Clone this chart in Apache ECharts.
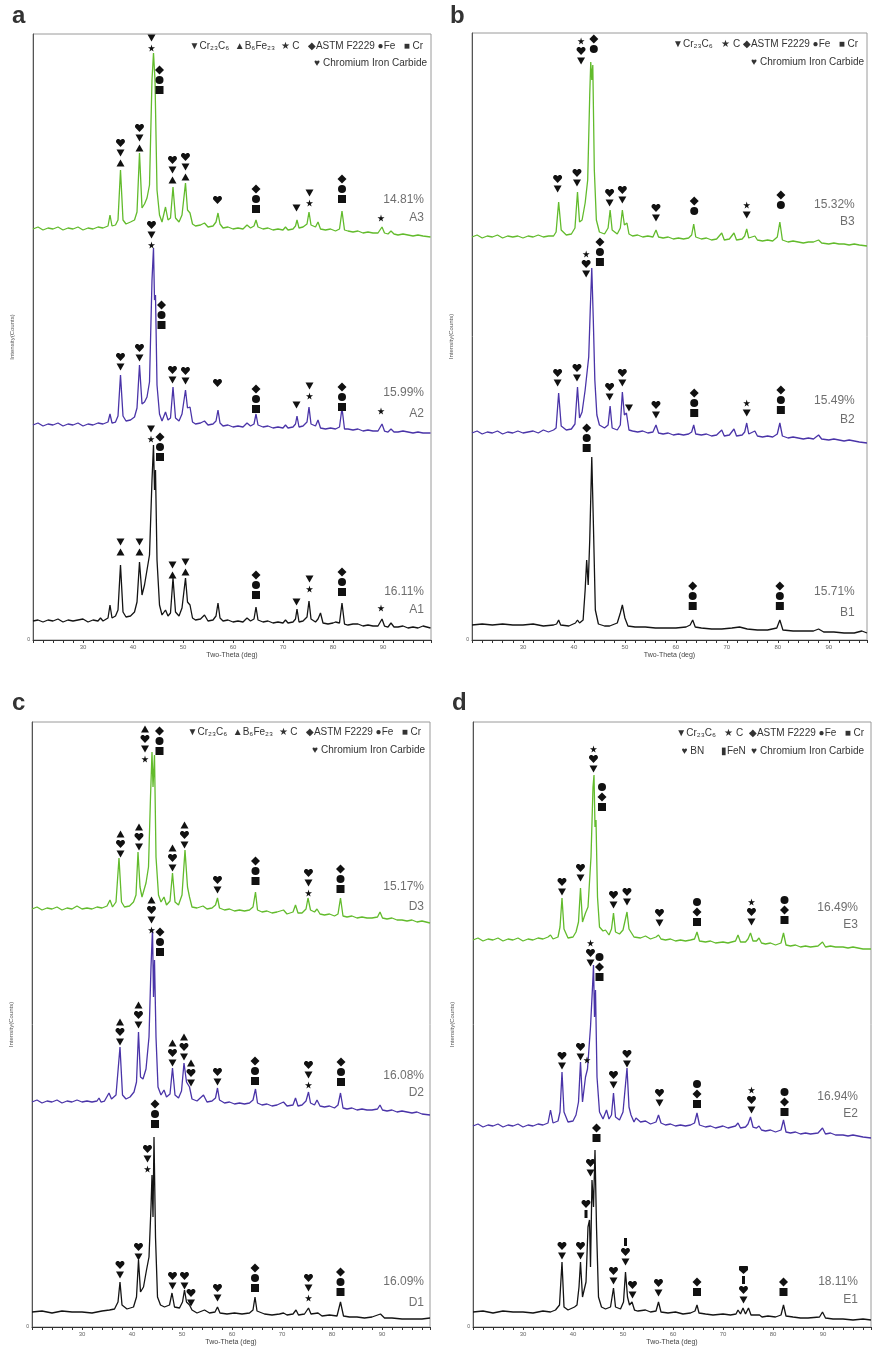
<!DOCTYPE html>
<html>
<head>
<meta charset="utf-8">
<script src="https://cdn.jsdelivr.net/npm/echarts@6/dist/echarts.min.js"></script>
<style>
  html, body { margin: 0; padding: 0; background: #fff; }
  #main { width: 874px; height: 1351px; }
</style>
</head>
<body>
<div id="main"></div>
<script>
// XRD patterns, [2theta, intensity] ; intensity in the panel's own arbitrary units (stacked traces)
var A3 = [[20,411],[21,413],[22,410],[23,412],[24,411],[25,413],[26,410],[27,412],[28,411],[29,413],[30,410],[31,412],[32,411],[33,413],[34,412],[35,414],[35.4,425],[35.8,414],[36.5,415],[37,420],[37.5,470],[38,420],[38.6,416],[39.5,418],[40.3,420],[40.8,428],[41.3,487],[41.8,432],[42.3,436],[42.8,442],[43.3,455],[43.8,560],[44.1,587],[44.4,560],[44.8,450],[45.3,425],[45.8,418],[46.5,433],[47,420],[47.5,422],[48,453],[48.5,422],[49.2,418],[49.8,425],[50.5,457],[50.9,430],[51.4,427],[51.9,416],[52.5,414],[53.5,415],[54.3,417],[55,413],[56,414],[56.6,418],[57,427],[57.4,416],[58,412],[59,413],[60,411],[61,412],[62,411],[62.8,415],[63.5,412],[64.2,414],[64.6,420],[65,413],[66,411],[67,412],[68,410],[69,411],[70,410],[70.5,413],[71,410],[72,411],[72.5,414],[72.8,420],[73.2,412],[74,413],[74.8,416],[75.2,428],[75.6,415],[76.5,413],[77,418],[77.5,411],[78.5,410],[79.5,411],[80.5,409],[81.3,411],[81.8,429],[82.3,410],[83,409],[84,408],[85,409],[86,407],[87,408],[88,407],[89,407],[89.8,413],[90.3,407],[91,406],[91.6,409],[92.2,406],[93,405],[94,406],[95,405],[96,404],[97,405],[98,404],[99.5,403]];
var A2 = [[20,215],[21,217],[22,214],[23,216],[24,215],[25,217],[26,214],[27,216],[28,215],[29,217],[30,214],[31,216],[32,215],[33,217],[34,216],[35,218],[35.4,226],[35.8,217],[36.5,218],[37,224],[37.5,265],[38,224],[38.6,219],[39.5,220],[40.3,223],[40.8,232],[41.3,275],[41.8,236],[42.3,238],[42.8,243],[43.3,258],[43.8,360],[44.1,392],[44.3,340],[44.5,345],[44.8,255],[45.3,226],[45.8,219],[46.5,228],[47,220],[47.5,222],[48,253],[48.5,222],[49.2,219],[49.8,226],[50.5,250],[50.9,232],[51.4,233],[51.9,218],[52.5,216],[53.5,217],[54.3,219],[55,215],[56,216],[56.6,219],[57,230],[57.4,217],[58,214],[59,215],[60,213],[61,214],[62,213],[62.8,217],[63.5,214],[64.2,216],[64.6,226],[65,215],[66,213],[67,214],[68,212],[69,213],[70,212],[70.5,215],[71,212],[72,213],[72.5,216],[72.8,224],[73.2,213],[74,214],[74.8,218],[75.2,233],[75.6,216],[76.5,214],[77,220],[77.5,212],[78.5,211],[79.5,212],[80.5,211],[81.3,213],[81.8,232],[82.3,211],[83,211],[84,210],[85,211],[86,209],[87,210],[88,209],[89,209],[89.8,216],[90.3,209],[91,208],[91.6,211],[92.2,208],[93,208],[94,209],[95,208],[96,207],[97,208],[98,207],[99.5,207]];
var A1 = [[20,19],[21,20],[22,18],[23,20],[24,19],[25,21],[26,18],[27,20],[28,19],[29,20],[30,21],[31,18],[32,20],[33,19],[33.5,22],[34,19],[35,22],[35.4,35],[35.8,22],[36.5,24],[37,30],[37.5,75],[38,28],[38.6,23],[39.5,24],[40.3,28],[40.8,38],[41.3,78],[41.8,45],[42.3,55],[42.8,70],[43.3,85],[43.8,160],[44.1,195],[44.3,150],[44.5,170],[44.8,80],[45.3,35],[45.8,25],[46.5,30],[47,24],[47.5,27],[48,62],[48.5,28],[49.2,24],[49.8,32],[50.5,62],[50.9,38],[51.4,35],[51.9,22],[52.5,20],[53.5,21],[54.3,25],[55,19],[56,20],[56.6,24],[57,37],[57.4,22],[58,19],[59,20],[60,18],[61,19],[62,18],[62.8,22],[63.5,19],[64.2,21],[64.6,33],[65,20],[66,18],[67,19],[68,17],[69,18],[70,17],[70.5,20],[71,17],[72,18],[72.5,21],[72.8,31],[73.2,18],[74,19],[74.8,23],[75.2,39],[75.6,21],[76.5,18],[77,21],[77.5,27],[78,17],[79,16],[80,17],[80.5,18],[81.3,17],[81.8,37],[82.3,16],[83,15],[84,16],[85,16],[86,14],[87,15],[88,14],[89,14],[89.8,21],[90.3,14],[91,13],[91.6,17],[92.2,13],[93,13],[94,14],[95,12],[96,13],[97,12],[98,14],[99.5,12]];

var B3 = [[20,403],[21,405],[22,402],[23,404],[24,403],[25,405],[26,402],[27,404],[28,403],[29,404],[30,402],[31,404],[32,403],[33,405],[34,403],[35,404],[36,404],[36.5,408],[37,438],[37.5,410],[38.5,405],[39.5,406],[40.2,412],[40.7,448],[41.1,418],[41.6,420],[42.2,437],[42.7,460],[43.1,545],[43.3,578],[43.5,560],[43.7,575],[44,470],[44.4,420],[45,408],[46,406],[46.7,412],[47.1,430],[47.5,410],[48.5,406],[49.1,412],[49.5,430],[49.9,415],[50.4,417],[50.8,406],[51.5,404],[52.5,405],[53.5,403],[54.5,404],[55.5,403],[56.1,410],[56.6,403],[57.5,402],[58.5,403],[59.5,401],[60.5,402],[61.5,401],[62.5,402],[63.1,405],[63.5,416],[63.9,403],[65,401],[66,402],[67,400],[68,401],[69,407],[69.5,400],[70.5,401],[71.4,407],[71.9,400],[73,401],[73.5,404],[73.9,411],[74.3,402],[75.5,404],[76,400],[77,399],[78,400],[79,399],[79.9,403],[80.4,418],[80.9,400],[82,398],[83,399],[84,398],[85,397],[86,398],[87,398],[88,400],[88.6,397],[90,396],[91,397],[92,396],[93,396],[94,395],[95,396],[96,395],[97.5,394]];
var B2 = [[20,207],[21,209],[22,206],[23,208],[24,207],[25,209],[26,206],[27,208],[28,207],[29,209],[30,207],[31,208],[32,209],[33,207],[34,210],[35,208],[36,210],[36.5,212],[37,247],[37.5,214],[38.5,210],[39.5,211],[40.2,216],[40.7,253],[41.1,222],[41.6,228],[42.2,250],[42.9,283],[43.2,330],[43.5,372],[43.8,320],[44.1,260],[44.5,225],[45,215],[46,212],[46.7,215],[47.1,234],[47.5,212],[48.5,210],[49.1,215],[49.5,248],[49.9,225],[50.3,227],[50.8,210],[51.5,209],[52.5,208],[53.5,209],[54.5,207],[55.5,208],[56.1,215],[56.6,207],[57.5,206],[58.5,207],[59.5,205],[60.5,206],[61.5,205],[62.5,206],[63.1,208],[63.5,215],[63.9,206],[65,205],[66,206],[67,204],[68,205],[69,210],[69.5,204],[70.5,205],[71.4,211],[71.9,204],[73,205],[73.5,208],[73.9,217],[74.3,206],[75.5,209],[76,204],[77,203],[78,204],[79,203],[79.9,206],[80.4,217],[80.9,204],[82,202],[83,203],[84,202],[85,201],[86,202],[87,201],[88,205],[88.6,201],[90,200],[91,201],[92,200],[93,199],[94,200],[95,199],[96,198],[97.5,197]];
var B1 = [[20,15],[22,16],[24,15],[26,16],[28,15],[30,15],[32,16],[34,14],[36,15],[36.6,16],[37,20],[37.4,15],[39,14],[40.3,17],[40.7,20],[41.1,17],[41.8,20],[42.2,50],[42.5,80],[42.8,55],[43.1,100],[43.5,183],[43.8,120],[44.2,30],[44.8,16],[46,14],[47,14],[48.5,17],[49.1,27],[49.5,35],[50,22],[50.6,14],[52,13],[54,13],[56,12],[58,12],[60,12],[62,13],[62.8,15],[63.3,20],[63.8,13],[65,12],[67,11],[69,11],[71,12],[72.5,13],[74,11],[76,10],[78,10],[79.8,12],[80.4,20],[81,10],[83,9],[85,9],[87,9],[88,11],[89,8],[91,8],[93,7],[95,7],[96.5,9],[97.5,7]];

var D3 = [[20,418],[21,420],[22,417],[23,419],[24,418],[25,420],[26,417],[27,419],[28,418],[29,421],[30,418],[31,419],[32,418],[33,420],[34,419],[35,421],[35.6,427],[36.1,420],[36.8,425],[37.4,469],[37.9,425],[38.5,420],[39.5,421],[40.3,425],[40.8,432],[41.2,475],[41.6,440],[42,430],[42.8,444],[43.3,460],[43.7,530],[44,575],[44.2,540],[44.5,572],[44.8,470],[45.3,432],[45.8,425],[46.4,430],[46.9,422],[47.6,426],[48.1,454],[48.6,425],[49.3,422],[50,432],[50.6,477],[51.1,440],[51.5,430],[52,420],[53,419],[54.2,421],[55,418],[56,419],[56.7,422],[57.1,429],[57.5,419],[58.5,417],[59.5,418],[60.5,416],[61.5,417],[62.5,416],[63.5,417],[64.2,420],[64.7,435],[65.1,417],[66,415],[67,416],[68,414],[69,415],[70.3,417],[71,413],[72.2,415],[72.7,422],[73.2,414],[74,414],[74.8,418],[75.2,429],[75.7,417],[76.5,415],[77,418],[77.6,413],[78.5,412],[79.5,413],[80.5,411],[81.2,413],[81.7,429],[82.2,411],[83,410],[84,411],[85,409],[86,410],[87,409],[88,409],[89.1,410],[89.6,415],[90.1,409],[91,408],[92,409],[93,407],[94,407],[95,406],[96,407],[97,405],[98,406],[99.6,404]];
var D2 = [[20,225],[21,227],[22,224],[23,226],[24,225],[25,227],[26,224],[27,226],[28,225],[29,227],[30,225],[31,226],[32,225],[33,226],[33.4,229],[33.8,225],[34.5,226],[35.4,234],[35.9,228],[36.8,232],[37.6,280],[38.1,232],[38.8,228],[39.6,230],[40.4,235],[40.9,245],[41.3,295],[41.7,250],[42.2,248],[42.8,258],[43.4,290],[43.8,360],[44.1,398],[44.3,330],[44.5,367],[44.8,290],[45.2,240],[45.8,232],[46.4,237],[46.9,230],[47.6,233],[48.1,259],[48.6,232],[49.3,229],[49.9,236],[50.4,264],[50.9,245],[51.5,240],[52,228],[53,226],[54.3,232],[55,225],[56,226],[56.7,229],[57.1,239],[57.5,227],[58.5,224],[59.5,225],[60.5,223],[61.5,224],[62.5,223],[63.5,224],[64.2,227],[64.7,238],[65.1,224],[66,222],[67,223],[68,221],[69,222],[70.3,225],[71,221],[72.2,222],[72.7,229],[73.2,221],[74,222],[74.8,226],[75.3,235],[75.7,224],[76.5,222],[77,227],[77.6,221],[78.5,220],[79.5,221],[80.5,219],[81.2,222],[81.7,234],[82.2,219],[83,218],[84,219],[85,217],[86,218],[87,217],[88,217],[89.1,218],[89.6,222],[90.1,217],[91,216],[92,217],[93,215],[94,216],[95,215],[96,214],[97,215],[98,213],[99.6,212]];
var D1 = [[20,15],[22,16],[24,14],[26,16],[28,15],[30,15],[32,14],[34,16],[35.5,17],[36.5,18],[37.2,25],[37.6,45],[38,22],[39,18],[40.3,20],[40.9,30],[41.3,67],[41.7,35],[42.3,40],[42.9,57],[43.4,70],[43.8,120],[44,152],[44.2,110],[44.4,190],[44.7,90],[45.1,30],[45.7,22],[46.5,20],[47.5,22],[48,34],[48.5,20],[49.5,19],[50.1,25],[50.5,37],[50.9,25],[51.5,22],[52,17],[53,14],[54.5,17],[55.5,14],[56.6,15],[57.1,20],[57.6,14],[59,13],[60.5,14],[62,13],[63.5,14],[64.2,17],[64.6,30],[65,16],[66.5,13],[68,12],[69.5,13],[70.3,14],[71,12],[72.2,13],[72.8,17],[73.3,12],[74.5,13],[75.3,19],[75.8,13],[77.2,14],[78,11],[79.5,12],[81,11],[81.7,25],[82.3,11],[83.5,10],[85,10],[86.5,9],[88,10],[89.7,13],[90.5,9],[92,9],[94,8],[96,8],[98,8],[99.6,9]];

var E3 = [[20,387],[21,389],[22,386],[23,388],[24,387],[25,389],[26,386],[27,388],[28,387],[29,389],[30,386],[31,388],[32,387],[33,389],[34,388],[35,390],[35.5,392],[36,388],[37,390],[37.4,400],[37.8,429],[38.2,398],[39,389],[40,390],[40.6,395],[41.1,405],[41.5,439],[41.9,405],[42.5,414],[43,420],[43.6,470],[44,540],[44.2,552],[44.4,500],[44.6,507],[44.9,430],[45.3,400],[46,396],[46.5,397],[47.2,392],[47.7,398],[48.1,414],[48.5,395],[49.3,393],[50,397],[50.8,415],[51.2,398],[51.6,397],[52.2,390],[53.5,389],[54.5,391],[55.5,388],[56.6,390],[57.1,392],[57.6,388],[58.5,387],[59.5,388],[60.5,386],[61.5,387],[62.5,386],[63.5,387],[64.3,388],[64.8,395],[65.3,386],[66.5,385],[67.5,386],[68.5,384],[70,385],[71,384],[72.5,386],[73,392],[73.5,385],[74.5,385],[75,388],[75.5,394],[76,386],[76.7,386],[77.2,389],[77.7,384],[78.5,383],[79.5,384],[80.5,382],[81.6,384],[82.1,394],[82.6,382],[83.5,381],[84.5,382],[85.5,380],[86.5,381],[87.5,380],[89,381],[89.9,385],[90.5,380],[91.5,381],[92.5,380],[94,380],[95,379],[96,380],[97,379],[98,378],[99.6,378]];
var E2 = [[20,201],[21,203],[22,200],[23,202],[24,201],[25,203],[26,200],[27,202],[28,201],[29,203],[30,200],[31,202],[32,201],[33,203],[34,202],[35,204],[35.5,217],[36,204],[37,206],[37.4,215],[37.8,255],[38.2,215],[39,205],[40,206],[40.6,212],[41.1,225],[41.5,265],[41.9,225],[42.5,250],[42.9,258],[43.5,300],[44,350],[44.1,362],[44.3,310],[44.5,337],[44.8,250],[45.3,215],[46,208],[46.7,217],[47.2,208],[47.7,212],[48.1,234],[48.5,210],[49.3,207],[50,215],[50.8,259],[51.2,220],[51.6,212],[52.2,205],[52.6,209],[53.5,205],[54.5,206],[55.5,203],[56.6,205],[57.1,212],[57.6,204],[58.5,202],[59.5,203],[60.5,201],[61.5,202],[62.5,201],[63.5,202],[64.3,204],[64.8,214],[65.3,202],[66.5,200],[67.5,201],[68.5,199],[70,201],[71,199],[72.5,201],[73,204],[73.5,199],[74.5,200],[75,203],[75.5,210],[76,200],[76.7,199],[77.2,201],[77.7,197],[78.5,196],[79.5,197],[80.5,195],[81.6,197],[82.1,207],[82.6,195],[83.5,194],[84.5,195],[85.5,193],[86.5,194],[87.5,193],[89,194],[89.9,199],[90.5,193],[91.5,194],[92.5,192],[94,192],[95,191],[96,192],[97,191],[98,190],[99.6,189]];
var E1 = [[20,15],[22,16],[24,14],[26,16],[28,15],[30,15],[32,14],[34,16],[35.5,15],[36.5,17],[37.3,22],[37.8,65],[38.2,20],[39,17],[40.3,20],[40.8,22],[41.2,40],[41.5,65],[41.9,30],[42.3,32],[42.6,45],[43,100],[43.3,107],[43.5,60],[43.8,147],[44.1,120],[44.4,177],[44.7,100],[45.1,30],[45.7,20],[46.5,18],[47.5,20],[48.1,39],[48.5,20],[49.5,18],[50.1,25],[50.5,55],[50.9,30],[51.3,22],[51.8,25],[52.3,17],[53,16],[54.5,17],[55.5,15],[56.6,16],[57.1,25],[57.6,15],[59,14],[60.5,15],[62,13],[63.5,14],[64.4,16],[64.8,22],[65.2,14],[66.5,13],[68,12],[70,13],[71.5,12],[72.6,13],[73,17],[73.5,13],[74,19],[74.5,13],[75.1,19],[75.6,12],[77.3,12],[77.8,10],[79,11],[80.5,10],[81.6,12],[82.1,22],[82.6,11],[84,10],[85.5,9],[87,9],[89.3,10],[89.9,15],[90.5,9],[92,8],[94,8],[96,7],[98,8],[99.6,7]];

// phase markers: [2theta, height of top symbol, symbols top->bottom]
// v Cr23C6, ^ B6Fe23, * C, d ASTM F2229, o Fe, s Cr, h chromium iron carbide, b BN, f FeN
var A3_marks = [[37.5,497,'hv^'],[41.3,512,'hv^'],[43.7,602,'v*'],[45.3,570,'dos'],[47.9,480,'hv^'],[50.5,483,'hv^'],[56.9,440,'h'],[64.6,451,'dos'],[72.7,432,'v'],[75.3,447,'v*'],[81.8,461,'dos'],[89.6,422,'*']];
var A2_marks = [[37.5,283,'hv'],[41.3,292,'hv'],[43.7,415,'hv*'],[45.7,335,'dos'],[47.9,270,'hv'],[50.5,269,'hv'],[56.9,257,'h'],[64.6,251,'dos'],[72.7,235,'v'],[75.3,254,'v*'],[81.8,253,'dos'],[89.6,229,'*']];
var A1_marks = [[37.5,98,'v^'],[41.3,98,'v^'],[43.6,211,'v*'],[45.4,203,'dos'],[47.9,75,'v^'],[50.5,78,'v^'],[64.6,65,'dos'],[72.7,38,'v'],[75.3,61,'v*'],[81.8,68,'dos'],[89.6,32,'*']];
var B3_marks = [[41.4,599,'*hv'],[43.9,601,'do'],[36.8,461,'hv'],[40.6,467,'hv'],[47.0,447,'hv'],[49.5,450,'hv'],[56.1,432,'hv'],[63.6,439,'do'],[73.9,435,'*v'],[80.6,445,'do']];
var B2_marks = [[42.4,386,'*hv'],[45.1,398,'dos'],[36.8,267,'hv'],[40.6,272,'hv'],[47.0,253,'hv'],[49.5,267,'hv'],[50.8,232,'v'],[56.1,235,'hv'],[63.6,247,'dos'],[73.9,237,'*v'],[80.6,250,'dos']];
var B1_marks = [[42.5,212,'dos'],[63.3,54,'dos'],[80.4,54,'dos']];
var D3_marks = [[42.6,598,'^hv*'],[45.5,596,'dos'],[37.7,493,'^hv'],[41.4,500,'^hv'],[48.1,479,'^hv'],[50.5,502,'^hv'],[57.1,447,'hv'],[64.7,466,'dos'],[75.3,454,'hv*'],[81.7,458,'dos']];
var D2_marks = [[43.9,427,'^hv*'],[45.6,395,'dos'],[37.6,305,'^hv'],[41.3,322,'^hv'],[48.1,284,'^hv'],[50.4,290,'^hv'],[51.8,264,'^hv'],[57.1,255,'hv'],[64.6,266,'dos'],[75.3,262,'hv*'],[81.8,265,'dos']];
var D1_marks = [[37.6,62,'hv'],[41.3,80,'hv'],[43.1,178,'hv*'],[44.6,223,'dos'],[48.1,51,'hv'],[50.5,51,'hv'],[51.8,34,'hv'],[57.1,39,'hv'],[64.6,59,'dos'],[75.3,49,'hv*'],[81.7,55,'dos']];
var E3_marks = [[44.1,578,'*hv'],[45.8,540,'ods'],[37.8,445,'hv'],[41.5,459,'hv'],[48.1,432,'hv'],[50.8,435,'hv'],[57.3,414,'hv'],[64.8,425,'ods'],[75.7,425,'*hv'],[82.3,427,'ods']];
var E2_marks = [[43.5,384,'*hv'],[45.3,370,'ods'],[37.8,271,'hv'],[41.5,280,'hv'],[42.8,267,'*'],[48.1,252,'hv'],[50.8,273,'hv'],[57.3,234,'hv'],[64.8,243,'ods'],[75.7,237,'*hv'],[82.3,235,'ods']];
var E1_marks = [[37.8,81,'hv'],[41.5,81,'hv'],[42.6,123,'hf'],[43.5,164,'hv'],[44.7,199,'ds'],[50.5,85,'fhv'],[48.1,56,'hv'],[51.9,42,'hv'],[57.1,44,'hv'],[64.8,45,'ds'],[74.1,57,'bfhv'],[82.1,45,'ds']];

// sample tags: [text, height]
var A_tags = [['14.81%',440],['A3',422],['15.99%',247],['A2',226],['16.11%',48],['A1',30]];
var B_tags = [['15.32%',435],['B3',418],['15.49%',239],['B2',220],['15.71%',48],['B1',27]];
var D_tags = [['15.17%',440],['D3',420],['16.08%',251],['D2',234],['16.09%',45],['D1',24]];
var E_tags = [['16.49%',419],['E3',402],['16.94%',230],['E2',213],['18.11%',45],['E1',27]];

var FONT = 'Liberation Sans, Arial, Helvetica, sans-serif';
var GREEN = '#62bb2c', PURPLE = '#4a34a8', BLACK = '#141414';
var STEP = 10;

var STAR = 'path://M50 0 L61 35 L98 35 L68 57 L79 91 L50 70 L21 91 L32 57 L2 35 L39 35 Z';
var HEART = 'path://M12 22 L2.5 12 C-1 8 1 1.5 6.5 1.5 C9 1.5 11 3 12 5 C13 3 15 1.5 17.5 1.5 C23 1.5 25 8 21.5 12 Z';
var SHIELD = 'path://M1 0 L19 0 Q20 0 20 1 L20 9 L10 18 L0 9 L0 1 Q0 0 1 0 Z';
var SYM = {
    'v': { symbol: 'triangle', size: [8, 7], rotate: 180 },
    '^': { symbol: 'triangle', size: [8, 7], rotate: 0 },
    '*': { symbol: STAR, size: [7, 7], rotate: 0 },
    'd': { symbol: 'diamond', size: [9, 9], rotate: 0 },
    'o': { symbol: 'circle', size: [8, 8], rotate: 0 },
    's': { symbol: 'rect', size: [8, 8], rotate: 0 },
    'h': { symbol: HEART, size: [9, 8], rotate: 0 },
    'b': { symbol: SHIELD, size: [9, 8], rotate: 0 },
    'f': { symbol: 'rect', size: [3, 8], rotate: 0 }
};

var panels = [
    { left: 33, top: 34, width: 398, height: 606, xmax: 99.6, traces: [A3, A2, A1], marks: [A3_marks, A2_marks, A1_marks], tags: A_tags, tagX: 98.2 },
    { left: 472, top: 33, width: 395, height: 607, xmax: 97.5, traces: [B3, B2, B1], marks: [B3_marks, B2_marks, B1_marks], tags: B_tags, tagX: 95.1 },
    { left: 32, top: 722, width: 398, height: 605, xmax: 99.6, traces: [D3, D2, D1], marks: [D3_marks, D2_marks, D1_marks], tags: D_tags, tagX: 98.4 },
    { left: 473, top: 722, width: 398, height: 605, xmax: 99.6, traces: [E3, E2, E1], marks: [E3_marks, E2_marks, E1_marks], tags: E_tags, tagX: 97.0 }
];
var traceColors = [GREEN, PURPLE, BLACK];

function markItems(list) {
    var items = [];
    list.forEach(function (m) {
        m[2].split('').forEach(function (c, k) {
            var s = SYM[c];
            items.push({
                value: [m[0], m[1]],
                symbol: s.symbol,
                symbolSize: s.size,
                symbolRotate: s.rotate,
                symbolOffset: [0, k * STEP]
            });
        });
    });
    return items;
}

var grids = [], xAxes = [], yAxes = [], series = [];
panels.forEach(function (p, i) {
    grids.push({ left: p.left, top: p.top, width: p.width, height: p.height, show: true, borderColor: '#9a9a9a', borderWidth: 1, backgroundColor: 'transparent' });
    xAxes.push({
        gridIndex: i, type: 'value', min: 20, max: p.xmax, interval: 2,
        name: 'Two-Theta (deg)', nameLocation: 'middle', nameGap: 12,
        nameTextStyle: { fontSize: 7, color: '#444', fontFamily: FONT },
        axisLine: { show: true, onZero: false, lineStyle: { color: '#333', width: 1 } },
        axisTick: { show: true, length: 3, lineStyle: { color: '#333' } },
        axisLabel: {
            fontSize: 6, color: '#666', margin: 4, fontFamily: FONT,
            formatter: function (v) { return (v % 10 === 0 && v > 20 && v < 100) ? String(v) : ''; }
        },
        splitLine: { show: false }
    });
    yAxes.push({
        gridIndex: i, type: 'value', min: 0, max: p.height, interval: p.height,
        name: 'Intensity(Counts)', nameLocation: 'middle', nameGap: 18, nameRotate: 90,
        nameTextStyle: { fontSize: 6, color: '#555', fontFamily: FONT },
        axisLine: { show: true, lineStyle: { color: '#555', width: 1 } },
        axisTick: { show: false },
        axisLabel: { fontSize: 5, color: '#555', margin: 3, formatter: function (v) { return v === 0 ? '0' : ''; } },
        splitLine: { show: false }
    });
    p.traces.forEach(function (t, k) {
        series.push({
            type: 'line', xAxisIndex: i, yAxisIndex: i, data: t,
            symbol: 'none', showSymbol: false, silent: true,
            lineStyle: { color: traceColors[k], width: 1.3 }, z: 2
        });
    });
    p.marks.forEach(function (ml) {
        series.push({
            type: 'scatter', xAxisIndex: i, yAxisIndex: i, data: markItems(ml),
            itemStyle: { color: '#111', opacity: 1 }, silent: true, z: 4
        });
    });
    series.push({
        type: 'scatter', xAxisIndex: i, yAxisIndex: i, symbolSize: 0, silent: true, z: 5,
        data: p.tags.map(function (tg) { return { value: [p.tagX, tg[1]], name: tg[0] }; }),
        label: { show: true, position: 'left', distance: 0, formatter: '{b}', fontSize: 12, color: '#4a4a4a', fontFamily: FONT }
    });
});

var legendLine1 = '▼Cr₂₃C₆  ▲B₆Fe₂₃  ★ C   ◆ASTM F2229 ●Fe   ■ Cr';
var legendLine1b = '▼Cr₂₃C₆   ★ C ◆ASTM F2229 ●Fe   ■ Cr';
var legendLine1d = '▼Cr₂₃C₆   ★ C  ◆ASTM F2229 ●Fe   ■ Cr';
var legendCarbide = '♥ Chromium Iron Carbide';
var legendLine2d = '♥ BN      ▮FeN  ♥ Chromium Iron Carbide';

function txt(text, opt, font) {
    var o = { type: 'text', style: { text: text, font: font || ('10px ' + FONT), fill: '#333' } };
    for (var k in opt) o[k] = opt[k];
    return o;
}

var graphics = [
    txt('a', { left: 12, top: 4 }, 'bold 24px ' + FONT),
    txt('b', { left: 450, top: 4 }, 'bold 24px ' + FONT),
    txt('c', { left: 12, top: 691 }, 'bold 24px ' + FONT),
    txt('d', { left: 452, top: 691 }, 'bold 24px ' + FONT),
    txt(legendLine1, { right: 451, top: 41 }),
    txt(legendCarbide, { right: 447, top: 58 }),
    txt(legendLine1b, { right: 16, top: 39 }),
    txt(legendCarbide, { right: 10, top: 57 }),
    txt(legendLine1, { right: 453, top: 727 }),
    txt(legendCarbide, { right: 449, top: 745 }),
    txt(legendLine1d, { right: 10, top: 728 }),
    txt(legendLine2d, { right: 10, top: 746 })
];

var chart = echarts.init(document.getElementById('main'), null, { renderer: 'canvas' });
chart.setOption({
    animation: false,
    backgroundColor: '#fff',
    grid: grids,
    xAxis: xAxes,
    yAxis: yAxes,
    series: series,
    graphic: graphics
});
</script>
</body>
</html>
